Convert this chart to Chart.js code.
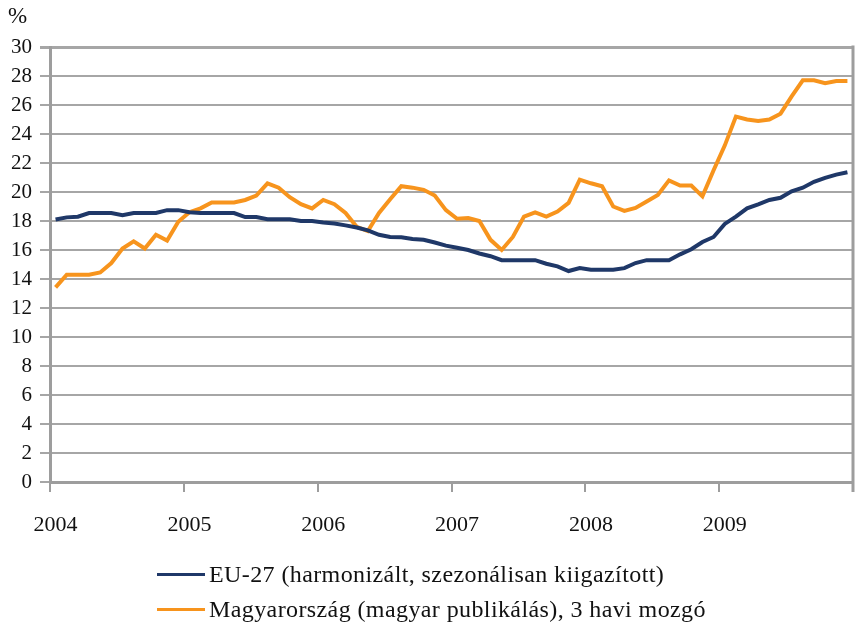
<!DOCTYPE html>
<html>
<head>
<meta charset="utf-8">
<script src="https://cdn.jsdelivr.net/npm/chart.js@4/dist/chart.umd.min.js"></script>
<style>
  html, body { margin: 0; padding: 0; background: #fff; }
  #wrap { position: relative; width: 857px; height: 628px; }
  #c { position: absolute; left: 0; top: 0; }
  .pct { position: absolute; left: 8px; top: 3px; font: 23px "Liberation Serif", serif; color: #111; }
  .leg { position: absolute; left: 157px; height: 30px; line-height: 30px; font: 24px "Liberation Serif", serif; letter-spacing: 0.4px; color: #111; white-space: nowrap; display: flex; align-items: center; }
  .leg span.ln { display: inline-block; width: 48px; height: 3px; margin-right: 4px; }
</style>
</head>
<body>
<div id="wrap">
  <canvas id="c" width="857" height="628"></canvas>
  <div class="pct">%</div>
  <div class="leg" style="top:559px"><span class="ln" style="background:#1f3868"></span><span id="l1"></span></div>
  <div class="leg" style="top:594px"><span class="ln" style="background:#f7941d"></span><span id="l2"></span></div>
</div>
<script>
const years = ["2004", "2005", "2006", "2007", "2008", "2009"];
const seriesNames = ["EU-27 (harmonizált, szezonálisan kiigazított)", "Magyarország (magyar publikálás), 3 havi mozgó"];
const euValues = [
  18.1, 18.25, 18.3, 18.55, 18.55, 18.55, 18.4, 18.55, 18.55, 18.55, 18.75, 18.75,
  18.6, 18.55, 18.55, 18.55, 18.55, 18.27, 18.27, 18.12, 18.12, 18.12, 18.0, 18.0,
  17.9, 17.83, 17.7, 17.55, 17.35, 17.05, 16.9, 16.88, 16.76, 16.71, 16.52, 16.3,
  16.15, 16.0, 15.76, 15.57, 15.3, 15.3, 15.3, 15.3, 15.05, 14.87, 14.55, 14.75,
  14.64, 14.64, 14.64, 14.75, 15.1, 15.3, 15.3, 15.3, 15.7, 16.05, 16.55, 16.9,
  17.8, 18.3, 18.87, 19.15, 19.45, 19.6, 20.05, 20.3, 20.7, 20.97, 21.2, 21.36
];
const huValues = [
  13.42, 14.3, 14.3, 14.3, 14.45, 15.1, 16.1, 16.6, 16.1, 17.05, 16.65, 17.95,
  18.6, 18.87, 19.28, 19.28, 19.28, 19.45, 19.76, 20.6, 20.3, 19.64, 19.16, 18.87,
  19.45, 19.16, 18.55, 17.6, 17.3, 18.55, 19.5, 20.4, 20.3, 20.15, 19.76, 18.75,
  18.15, 18.2, 18.0, 16.7, 16.0, 16.9, 18.3, 18.6, 18.3, 18.65, 19.25, 20.85,
  20.6, 20.4, 19.0, 18.7, 18.9, 19.35, 19.8, 20.8, 20.44, 20.44, 19.7, 21.5,
  23.2, 25.2, 25.0, 24.9, 25.0, 25.4, 26.6, 27.7, 27.7, 27.5, 27.65, 27.65
];
const monthsPerYear = 12;

const labels = [];
years.forEach(y => { for (let m = 1; m <= monthsPerYear; m++) labels.push(y + "-" + String(m).padStart(2, "0")); });
document.getElementById("l1").textContent = seriesNames[0];
document.getElementById("l2").textContent = seriesNames[1];

const frame = {
  id: "frame",
  afterDraw(chart) {
    const { ctx, chartArea: a } = chart;
    ctx.save();
    ctx.strokeStyle = "#9d9d9d";
    ctx.lineWidth = 3;
    ctx.beginPath();
    ctx.moveTo(a.right, a.top - 1.5);
    ctx.lineTo(a.right, a.bottom + 10);
    ctx.stroke();
    ctx.restore();
  }
};

new Chart(document.getElementById("c"), {
  type: "line",
  data: {
    labels,
    datasets: [
      { label: seriesNames[0], data: euValues, borderColor: "#1f3868", borderWidth: 4, pointRadius: 0, tension: 0, order: 1 },
      { label: seriesNames[1], data: huValues, borderColor: "#f7941d", borderWidth: 4, pointRadius: 0, tension: 0, order: 2 }
    ]
  },
  options: {
    responsive: false,
    animation: false,
    events: [],
    layout: { padding: { top: 47, right: 4, left: 0, bottom: 0 } },
    plugins: { legend: { display: false }, tooltip: { enabled: false } },
    scales: {
      x: {
        type: "category",
        offset: true,
        afterFit(s) { s.height = 146; s.paddingLeft = 0; s.paddingRight = 0; },
        grid: {
          offset: true,
          drawOnChartArea: false,
          tickLength: 10,
          lineWidth: 2,
          color: c => (c.index % monthsPerYear === 0 ? "#9d9d9d" : "rgba(0,0,0,0)")
        },
        border: { display: true, color: "#9d9d9d", width: 3 },
        ticks: {
          autoSkip: false,
          maxRotation: 0,
          padding: 20,
          color: "#111",
          font: { family: "'Liberation Serif', serif", size: 22 },
          callback: (v, i) => (i % monthsPerYear === 0 ? years[i / monthsPerYear] : "")
        }
      },
      y: {
        min: 0,
        max: 30,
        afterFit(s) { s.width = 50; },
        grid: {
          color: "#a6a6a6",
          lineWidth: c => (c.tick && c.tick.value === 30 ? 3 : 2),
          tickLength: 10
        },
        border: { display: true, color: "#9d9d9d", width: 3 },
        ticks: {
          stepSize: 2,
          autoSkip: false,
          padding: 8,
          color: "#111",
          font: { family: "'Liberation Serif', serif", size: 21 }
        }
      }
    }
  },
  plugins: [frame]
});
</script>
</body>
</html>
